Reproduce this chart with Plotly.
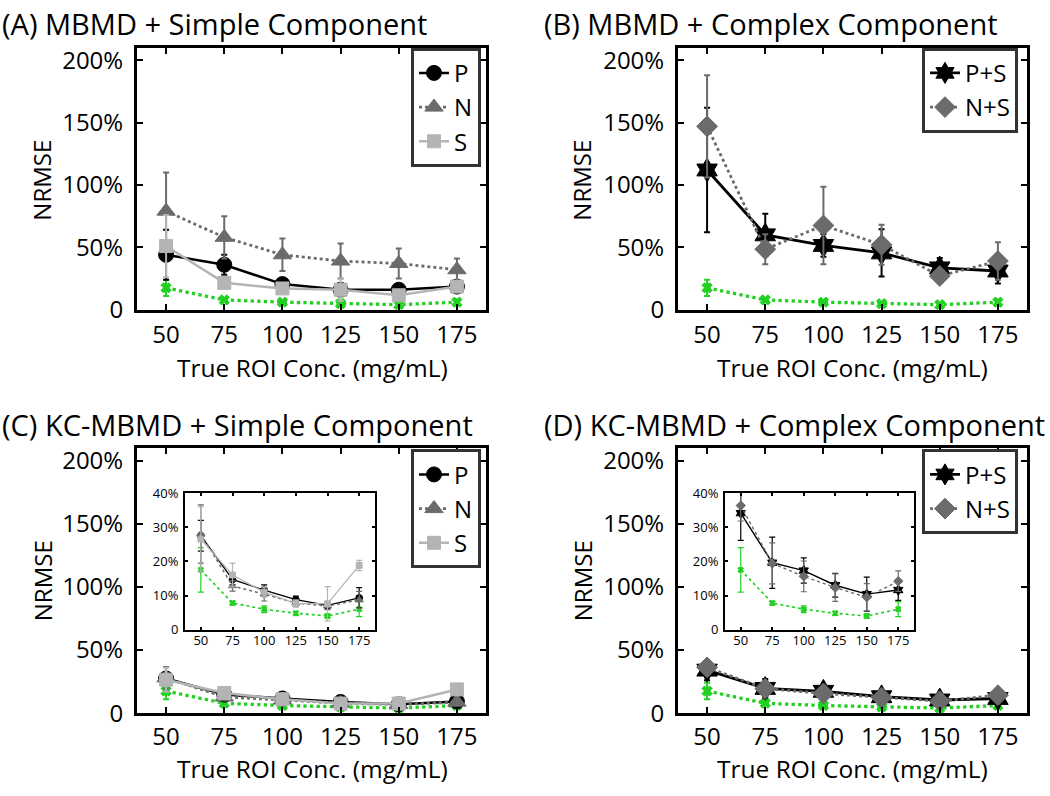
import plotly.graph_objects as go

W, H = 1050, 796

# ---------------- data ----------------
conc = [50, 75, 100, 125, 150, 175]
xtick_labels = ["50", "75", "100", "125", "150", "175"]
main_yticks = [0, 50, 100, 150, 200]
main_yticklabels = ["0", "50%", "100%", "150%", "200%"]
inset_yticks = [0, 10, 20, 30, 40]
inset_yticklabels = ["0", "10%", "20%", "30%", "40%"]

# green reference curve (shown in every panel, no legend entry)
ref_vals = [17.5, 7.8, 6.0, 4.8, 4.0, 6.0]
ref_err = [6.5, 0.6, 1.0, 0.6, 0.6, 2.2]

# (A) MBMD + Simple Component
a_P = [44, 36, 20.5, 16, 16, 18.5]
a_P_err = [20, 8, 3, 3, 3, 3]
a_N = [79, 58, 44, 39, 37, 32]
a_N_err = [31, 17, 13, 14, 12, 9]
a_S = [51, 21.5, 17, 16, 11.5, 18.5]
a_S_err = [25, 4, 4, 9, 3, 3]

# (B) MBMD + Complex Component
b_PS = [112, 60, 51.5, 45.5, 33.5, 31]
b_PS_err = [50, 17, 9, 19, 8, 10]
b_NS = [147, 48.5, 67.5, 52, 27, 39]
b_NS_err = [41, 12, 31, 16, 5, 15]

# (C) KC-MBMD + Simple Component
c_P = [27.5, 14.7, 11.6, 8.8, 7.1, 9.3]
c_P_err = [4.5, 1.5, 1.5, 1.0, 1.0, 3.0]
c_N = [28, 12.8, 10.4, 7.8, 6.9, 8.7]
c_N_err = [8.5, 1.5, 2.0, 1.0, 1.0, 2.5]
c_S = [26.5, 16, 11, 7.6, 7.6, 18.8]
c_S_err = [9.5, 3.5, 1.5, 1.0, 5.0, 1.5]

# (D) KC-MBMD + Complex Component
d_PS = [34.1, 19.6, 17.3, 13.0, 10.4, 11.6]
d_PS_err = [8, 7.5, 3.7, 3.5, 5, 3]
d_NS = [36.3, 19.4, 15.6, 12.3, 9.5, 14.2]
d_NS_err = [4.5, 6, 4.5, 4, 4, 3]

titles = ["(A) MBMD + Simple Component", "(B) MBMD + Complex Component",
          "(C) KC-MBMD + Simple Component", "(D) KC-MBMD + Complex Component"]

# ---------------- styles ----------------
FONT = "Open Sans"
BLACK = "#000000"
DGRAY = "#6b6b6b"
LGRAY = "#b4b4b4"
GREEN = "#22d022"

fig = go.Figure()


def px2x(px):
    return px / W


def py2y(py):
    return 1 - py / H


def xd(l, r):
    return [px2x(l), px2x(r)]


def yd(t, b):
    return [py2y(b), py2y(t)]


def add_series(xa, ya, y, err, name, color, symbol, msize, dash, lw, legend, showlegend, ew=1.5, ecap=3):
    fig.add_trace(go.Scatter(
        x=conc, y=y, name=name, mode="lines+markers",
        xaxis=xa, yaxis=ya, legend=legend, showlegend=showlegend,
        line=dict(color=color, width=lw, dash=dash),
        marker=dict(symbol=symbol, size=msize, color=color, line=dict(color=color, width=1)),
        error_y=dict(type="data", array=err, visible=True, color=color, thickness=ew, width=ecap),
    ))


def panel_simple(xa, ya, P, Pe, N, Ne, S, Se, legend, inset=False):
    k = 0.45 if inset else 1.0
    show = not inset
    ew = 1.2 if inset else 2
    add_series(xa, ya, ref_vals, ref_err, "ref", GREEN, "x", 9 * k + (1 if inset else 0), "dot", 3 * k + 0.3, legend, False, ew)
    add_series(xa, ya, P, Pe, "P", BLACK, "circle", 15 * k, "solid", 2.2 * k + 0.3, legend, show, ew)
    add_series(xa, ya, N, Ne, "N", DGRAY, "triangle-up", 16 * k, "dot", 2.5 * k + 0.3, legend, show, ew)
    add_series(xa, ya, S, Se, "S", LGRAY, "square", 13 * k, "solid", 2.2 * k + 0.3, legend, show, ew)


def panel_complex(xa, ya, PS, PSe, NS, NSe, legend, inset=False):
    k = 0.45 if inset else 1.0
    show = not inset
    ew = 1.2 if inset else 2
    add_series(xa, ya, ref_vals, ref_err, "ref", GREEN, "x", 9 * k + (1 if inset else 0), "dot", 3 * k + 0.3, legend, False, ew)
    add_series(xa, ya, PS, PSe, "P+S", BLACK, "hexagram", 18 * k, "solid", 2.5 * k + 0.3, legend, show, ew)
    add_series(xa, ya, NS, NSe, "N+S", DGRAY, "diamond", 16 * k, "dot", 2.5 * k + 0.3, legend, show, ew)


panel_simple("x", "y", a_P, a_P_err, a_N, a_N_err, a_S, a_S_err, "legend")
panel_complex("x2", "y2", b_PS, b_PS_err, b_NS, b_NS_err, "legend2")
panel_simple("x3", "y3", c_P, c_P_err, c_N, c_N_err, c_S, c_S_err, "legend3")
panel_complex("x4", "y4", d_PS, d_PS_err, d_NS, d_NS_err, "legend4")
panel_simple("x5", "y5", c_P, c_P_err, c_N, c_N_err, c_S, c_S_err, "legend3", inset=True)
panel_complex("x6", "y6", d_PS, d_PS_err, d_NS, d_NS_err, "legend4", inset=True)


def xaxis(dom, anchor, inset=False, standoff=2):
    return dict(domain=dom, anchor=anchor, range=[37.5, 187.5], tickvals=conc, ticktext=xtick_labels,
                showline=True, linecolor=BLACK, linewidth=2 if inset else 3, mirror="ticks",
                ticks="inside", ticklen=3 if inset else 6, tickwidth=1.5 if inset else 2, tickcolor=BLACK,
                showgrid=False, zeroline=False, fixedrange=True,
                tickfont=dict(family=FONT, size=13 if inset else 24, color=BLACK),
                ticklabelstandoff=-2 if inset else standoff)


def yaxis(dom, anchor, inset=False):
    return dict(domain=dom, anchor=anchor,
                range=[0, 40] if inset else [0, 210],
                tickvals=inset_yticks if inset else main_yticks,
                ticktext=inset_yticklabels if inset else main_yticklabels,
                showline=True, linecolor=BLACK, linewidth=2 if inset else 3, mirror="ticks",
                ticks="inside", ticklen=3 if inset else 6, tickwidth=1.5 if inset else 2, tickcolor=BLACK,
                showgrid=False, zeroline=False, fixedrange=True,
                tickfont=dict(family=FONT, size=13 if inset else 24, color=BLACK),
                ticklabelstandoff=2 if inset else 6)


fig.update_layout(
    width=W, height=H, margin=dict(l=0, r=0, t=0, b=0),
    paper_bgcolor="white", plot_bgcolor="white",
    font=dict(family=FONT, color=BLACK),
    xaxis=xaxis(xd(137, 486), "y"), yaxis=yaxis(yd(40, 310), "x"),
    xaxis2=xaxis(xd(678, 1027), "y2"), yaxis2=yaxis(yd(40, 310), "x2"),
    xaxis3=xaxis(xd(137, 486), "y3", standoff=0), yaxis3=yaxis(yd(453, 726), "x3"),
    xaxis4=xaxis(xd(678, 1027), "y4", standoff=0), yaxis4=yaxis(yd(453, 726), "x4"),
    xaxis5=xaxis(xd(185, 375), "y5", True), yaxis5=yaxis(yd(499, 640), "x5", True),
    xaxis6=xaxis(xd(725, 914), "y6", True), yaxis6=yaxis(yd(499, 640), "x6", True),
)

leg = dict(bgcolor="white", bordercolor="#333333", borderwidth=3,
           font=dict(family=FONT, size=24, color=BLACK), xanchor="left", yanchor="top",
           itemwidth=30, tracegroupgap=0)
fig.update_layout(
    legend=dict(leg, x=px2x(411), y=py2y(40)),
    legend2=dict(leg, x=px2x(922), y=py2y(40)),
    legend3=dict(leg, x=px2x(411), y=py2y(454)),
    legend4=dict(leg, x=px2x(922), y=py2y(454)),
)

ann = []
title_pos = [(0, 15), (542, 15), (0, 428), (542, 428)]
for t, (px, py) in zip(titles, title_pos):
    ann.append(dict(text=t, x=px2x(px), y=py2y(py), xref="paper", yref="paper",
                    xanchor="left", yanchor="middle", showarrow=False,
                    font=dict(family=FONT, size=29, color=BLACK)))
for (px, py) in [(42, 177), (582, 177), (42, 590), (582, 590)]:
    ann.append(dict(text="NRMSE", x=px2x(px), y=py2y(py), xref="paper", yref="paper",
                    xanchor="center", yanchor="middle", textangle=-90, showarrow=False,
                    font=dict(family=FONT, size=24, color=BLACK)))
for (px, py) in [(312, 370), (852, 370), (312, 783), (852, 783)]:
    ann.append(dict(text="True ROI Conc. (mg/mL)", x=px2x(px), y=py2y(py), xref="paper", yref="paper",
                    xanchor="center", yanchor="middle", showarrow=False,
                    font=dict(family=FONT, size=24.5, color=BLACK)))
fig.update_layout(annotations=ann)

fig.write_html("out.html", config={"displayModeBar": False},
               post_script="document.body.style.margin='0px';document.body.style.overflow='hidden';")
